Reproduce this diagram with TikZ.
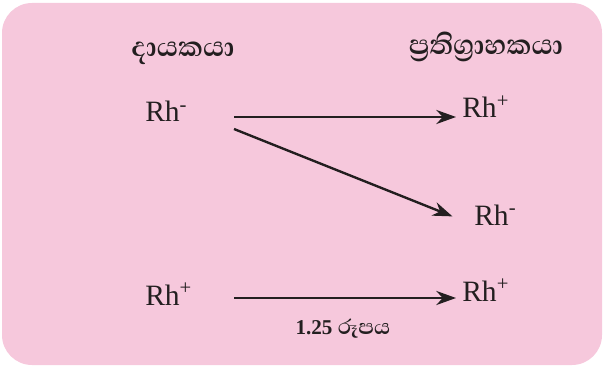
\documentclass[tikz,border=0pt]{standalone}
\usepackage{fontspec}
\setmainfont{Liberation Serif}
\newfontfamily\sinhala[Script=Sinhala]{Abhaya Libre}
\usepackage{tikz}
\usetikzlibrary{arrows.meta, positioning}

\definecolor{pinkbg}{RGB}{246,200,220}
\definecolor{inkgray}{RGB}{35,31,32}

\tikzset{
    rhnode/.style={inner sep=0pt, anchor=base west, text=inkgray, font=\fontsize{21}{24}\selectfont},
    headnode/.style={inner sep=0pt, text=inkgray, font=\sinhala\bfseries\fontsize{25}{28}\selectfont},
    link/.style={draw=inkgray, line width=1.7pt, -{Stealth[length=14pt, width=10pt]}}
}

\begin{document}
\begin{tikzpicture}[x=0.025cm, y=-0.025cm]
    \useasboundingbox (0,0) rectangle (603,366);
    \fill[pinkbg, rounded corners=0.75cm] (2,3) rectangle (602,365);

    % column heads
    \node[headnode] (donor) at (183,53) {දායකයා};
    \node[headnode] (recipient) at (486,47) {ප්‍රතිග්‍රාහකයා};

    % donor side
    \node[rhnode] (dneg) at (145,122) {Rh\textsuperscript{-}};
    \node[rhnode] (dpos) at (145,305) {Rh\textsuperscript{+}};

    % recipient side
    \node[rhnode] (rpos) at (462,118) {Rh\textsuperscript{+}};
    \node[rhnode] (rneg) at (474,225) {Rh\textsuperscript{-}};
    \node[rhnode] (rpostwo) at (462,301) {Rh\textsuperscript{+}};

    \coordinate (a1) at (234,117);
    \coordinate (a2) at (234,129);
    \coordinate (a3) at (234,298);

    \draw[link, shorten >=0.15cm] (a1) -- (a1 -| rpos.west);
    \draw[link, shorten >=0.58cm] (a2) -- (rneg.base west);
    \draw[link, shorten >=0.15cm] (a3) -- (a3 -| rpostwo.west);

    \node[inner sep=0pt, text=inkgray, font=\bfseries\fontsize{15}{17}\selectfont] (caption) at (343,329) {1.25 {\sinhala\fontsize{19}{21}\selectfont රූපය}};
\end{tikzpicture}
\end{document}
